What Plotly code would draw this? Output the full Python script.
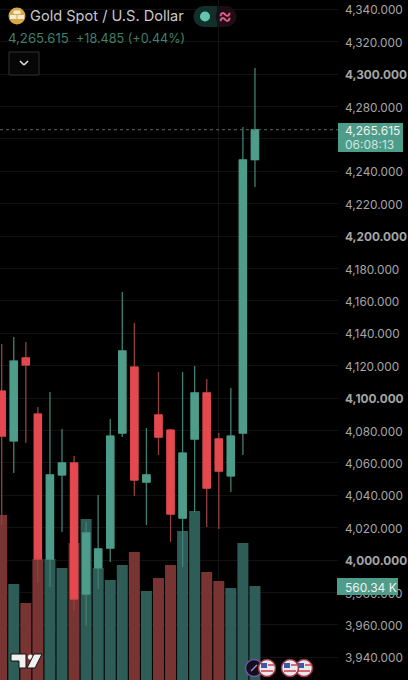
import plotly.graph_objects as go

W, H = 408, 680

# ---- data ----
candle_index = list(range(22))
open_ = [4104.3, 4073.5, 4124.7, 4090.1, 4000.6, 4052.5, 4059.9, 3979.0, 3995.1, 4007.4, 4078.4,
         4119.1, 4048.1, 4089.5, 4080.2, 4025.9, 4074.7, 4103.1, 4074.7, 4051.9, 4078.4, 4247.1]
high = [4133.3, 4137.7, 4134.6, 4094.4, 4103.7, 4080.9, 4064.2, 4023.5, 4040.1, 4087.0, 4165.4,
        4146.3, 4081.5, 4116.0, 4080.9, 4116.0, 4119.8, 4111.7, 4078.4, 4106.2, 4267.3, 4303.7]
low = [4021.6, 4053.7, 4072.2, 3985.8, 3983.3, 4017.3, 3968.5, 3959.3, 3982.1, 3998.8, 4075.9,
       4039.5, 4021.6, 4064.8, 4011.1, 3995.7, 4029.6, 4020.4, 4019.1, 4042.0, 4064.8, 4230.2]
close = [4076.5, 4122.8, 4120.4, 4000.6, 4052.5, 4059.9, 3975.9, 4016.7, 4006.8, 4076.5, 4129.0,
         4049.4, 4052.5, 4075.9, 4028.4, 4066.0, 4103.1, 4044.4, 4054.9, 4076.5, 4246.9, 4265.615]
volume_k = [983, 572, 459, 721, 721, 668, 817, 960, 668, 596, 685,
            763, 530, 608, 685, 888, 1007, 644, 590, 548, 817, 560.34]

price_ticks = list(range(3940, 4341, 20))
last_price = 4265.615
grid_candles = [18]
tick_text = [f"<b>{p:,.3f}</b>" if p % 100 == 0 else f"{p:,.3f}" for p in price_ticks]

# ---- styles ----
BG = "#000000"
GREEN = "#4d9d8a"
RED = "#e5484f"
V_GREEN = "#2e5d57"
V_RED = "#773432"
FONT = "Inter, 'Noto Sans', sans-serif"
PLOT_R = 338


def px(x):
    return x / W


def py(y):
    return 1 - y / H


def rect(x0, y0, x1, y1, fill, line=None, lw=0):
    return dict(type="rect", xref="paper", yref="paper", x0=px(x0), x1=px(x1), y0=py(y0), y1=py(y1),
                fillcolor=fill, line=dict(color=line or fill, width=lw), layer="above")


def circ(cx, cy, r, fill, line=None, lw=0):
    return dict(type="circle", xref="paper", yref="paper", x0=px(cx - r), x1=px(cx + r), y0=py(cy + r), y1=py(cy - r),
                fillcolor=fill, line=dict(color=line or fill, width=lw), layer="above")


def seg(x0, y0, x1, y1, color, lw=1):
    return dict(type="line", xref="paper", yref="paper", x0=px(x0), x1=px(x1), y0=py(y0), y1=py(y1),
                line=dict(color=color, width=lw), layer="above")


def poly(points, fill, line=None, lw=0):
    d = "M " + " L ".join(f"{px(a)} {py(b)}" for a, b in points) + " Z"
    return dict(type="path", xref="paper", yref="paper", path=d, fillcolor=fill,
                line=dict(color=line or fill, width=lw), layer="above")


def text(x, y, s, size, color, anchor="left"):
    return dict(xref="paper", yref="paper", x=px(x), y=py(y), text=s, showarrow=False, xanchor=anchor,
                yanchor="middle", font=dict(family=FONT, size=size, color=color), borderpad=0, borderwidth=0)


fig = go.Figure()
fig.add_trace(go.Bar(
    x=candle_index, y=volume_k, yaxis="y",
    marker=dict(color=[V_GREEN if c >= o else V_RED for o, c in zip(open_, close)], line=dict(width=0)),
    hoverinfo="skip", showlegend=False,
))
# wicks and outline
fig.add_trace(go.Candlestick(
    x=candle_index, open=open_, high=high, low=low, close=close, yaxis="y2",
    increasing=dict(fillcolor=GREEN, line=dict(color="#417f72", width=1.3)),
    decreasing=dict(fillcolor=RED, line=dict(color="#94403f", width=1.3)),
    whiskerwidth=0, showlegend=False,
))
# bodies on top, in the full body colour
fig.add_trace(go.Candlestick(
    x=candle_index, open=open_, close=close,
    high=[max(o, c) for o, c in zip(open_, close)],
    low=[min(o, c) for o, c in zip(open_, close)],
    yaxis="y2",
    increasing=dict(fillcolor=GREEN, line=dict(color=GREEN, width=1)),
    decreasing=dict(fillcolor=RED, line=dict(color=RED, width=1)),
    whiskerwidth=0, showlegend=False,
))

step = 12.06
x0 = 1.7

shapes = [
    dict(type="line", xref="paper", yref="y2", x0=0, x1=px(PLOT_R), y0=last_price, y1=last_price,
         line=dict(color="#4f6b63", width=1, dash="dot"), layer="above"),
    rect(338, 123, 403, 152, GREEN),
    rect(337, 578, 398, 595, GREEN),
    circ(17, 16, 8.5, "#d8a848"),
    rect(13.5, 10.5, 20.5, 14, "#f5ead0"),
    rect(10, 15, 16.5, 19, "#f5ead0"),
    rect(17.5, 15, 24, 19, "#f5ead0"),
    # status pill
    circ(204, 16.5, 10.5, "#12302b"),
    rect(204, 6, 217, 27, "#12302b"),
    circ(226, 16.5, 10.5, "#1c0e14"),
    rect(217, 6, 226, 27, "#1c0e14"),
    circ(205, 16.5, 5, "#66c4ae"),
    # collapse button
    dict(type="rect", xref="paper", yref="paper", x0=px(9), x1=px(39), y0=py(52), y1=py(75),
         fillcolor="#060606", line=dict(color="#333333", width=1), layer="above"),
    seg(20, 61, 24, 65, "#e0e0e0", 1.6),
    seg(24, 65, 28, 61, "#e0e0e0", 1.6),
    # TradingView logo
    poly([(11, 654), (26, 654), (26, 668), (19, 668), (19, 661), (11, 661)], "#f0f0f0", "#111111", 1),
    circ(30.5, 657, 2.6, "#f0f0f0"),
    poly([(34, 654), (42, 654), (35, 668), (27, 668)], "#f0f0f0", "#111111", 1),
    # event markers
    circ(254, 668, 8.5, "#101018", "#7b4fb0", 1.5),
    seg(251, 671, 257, 665, "#b080e0", 1.5),
]
for cx in [304, 290, 267]:
    shapes.append(circ(cx, 668, 8.5, "#e8e8f0", "#a8323a", 1.5))
    shapes.append(rect(cx - 6, 663, cx, 668, "#3a5aa8"))
    shapes.append(seg(cx + 1, 665, cx + 7, 665, "#c84048", 1.5))
    shapes.append(seg(cx - 6, 671, cx + 6, 671, "#c84048", 1.5))

annotations = [
    text(30, 16, "Gold Spot / U.S. Dollar", 14.6, "#c9c9c9"),
    text(8, 38, "4,265.615", 13.2, "#3f7f6e"),
    text(76, 38, "+18.485 (+0.44%)", 12.6, "#3f7f6e"),
    text(218, 15.5, "≈", 21, "#e8608a"),
    text(345, 130, "4,265.615", 12, "#f0f0f0"),
    text(345, 144, "06:08:13", 12, "#cfe5df"),
    text(345, 587, "560.34 K", 12, "#f0f0f0"),
]

fig.update_layout(
    width=W, height=H, margin=dict(l=0, r=0, t=0, b=0),
    paper_bgcolor=BG, plot_bgcolor=BG, showlegend=False,
    bargap=0.09, boxgap=0.14, boxmode="overlay",
    shapes=shapes, annotations=annotations,
    font=dict(family=FONT),
    xaxis=dict(domain=[0, PLOT_R / W], range=[-x0 / step, (PLOT_R - x0) / step], showticklabels=False,
               showgrid=True, tickmode="array", tickvals=grid_candles, gridcolor="#131313", gridwidth=1,
               zeroline=False, showline=False, rangeslider=dict(visible=False), ticks=""),
    yaxis=dict(domain=[0, 1], range=[0, 4053.6], showticklabels=False, showgrid=False, zeroline=False, showline=False),
    yaxis2=dict(overlaying="y", side="right", anchor="x", range=[3925.93, 4345.68],
                tickmode="array", tickvals=price_ticks, ticktext=tick_text,
                tickfont=dict(family=FONT, size=11.8, color="#a6a6a6"),
                ticks="", ticklabelstandoff=6, ticklabelshift=1,
                showgrid=True, gridcolor="#121212", gridwidth=1, zeroline=False, showline=False),
)
fig.write_html("out.html", config=dict(displayModeBar=False),
               post_script="document.body.style.margin='0';document.body.style.background='#000';")
